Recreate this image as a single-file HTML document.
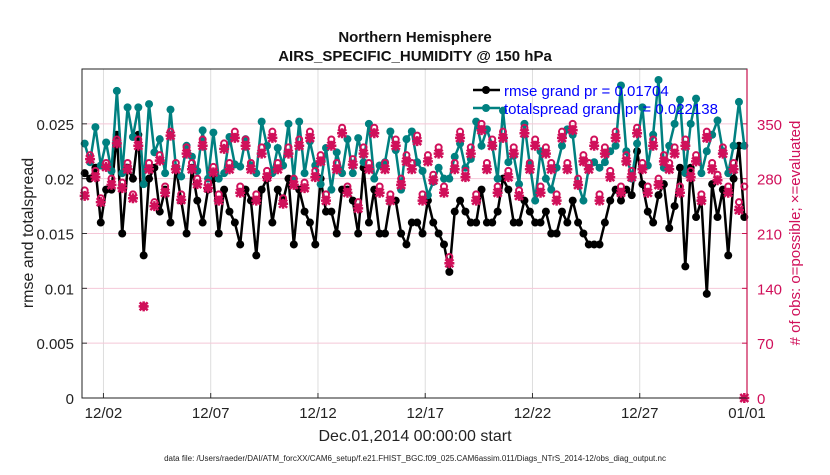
<!DOCTYPE html>
<html><head><meta charset="utf-8"><style>
body{margin:0;background:#fff;width:830px;height:470px;overflow:hidden;font-family:"Liberation Sans",sans-serif}
</style></head><body>
<svg id="c" width="830" height="470" xmlns="http://www.w3.org/2000/svg" font-family="Liberation Sans, sans-serif"></svg>
<script>
const rmse=[0.0205,0.020,0.021,0.016,0.019,0.019,0.024,0.015,0.021,0.020,0.024,0.013,0.020,0.021,0.017,0.019,0.016,0.021,0.018,0.015,0.021,0.018,0.016,0.019,0.020,0.015,0.019,0.017,0.016,0.014,0.019,0.018,0.013,0.019,
0.020,0.016,0.019,0.018,0.020,0.014,0.019,0.017,0.016,0.014,0.020,0.017,0.017,0.015,0.019,0.019,0.018,0.015,0.021,0.016,0.019,0.015,0.015,0.018,0.018,0.015,0.014,0.016,0.016,0.015,0.018,0.016,0.015,0.014,
0.0115,0.017,0.018,0.017,0.016,0.016,0.019,0.016,0.016,0.017,0.020,0.019,0.016,0.016,0.018,0.017,0.016,0.016,0.017,0.015,0.015,0.017,0.016,0.018,0.016,0.015,0.014,0.014,0.014,0.016,0.018,0.019,0.018,0.019,
0.0185,0.0225,0.0195,0.017,0.016,0.0185,0.0195,0.0155,0.0175,0.021,0.012,0.021,0.0165,0.018,0.0095,0.0195,0.0165,0.019,0.013,0.020,0.023,0.0165];
const spread=[0.0232,0.0215,0.0247,0.0212,0.0233,0.0207,0.0280,0.0205,0.0265,0.0238,0.0265,0.0195,0.0268,0.0224,0.0236,0.0205,0.0263,0.0210,0.0202,0.0230,0.0220,0.0207,0.0244,0.0200,0.0242,0.0200,0.0205,0.0238,0.0213,0.0211,0.0236,0.0212,0.0205,0.0252,
0.0230,0.0205,0.0228,0.0212,0.0250,0.0200,0.0252,0.0205,0.0234,0.0212,0.0195,0.0228,0.0190,0.0224,0.0205,0.0236,0.0205,0.0237,0.0215,0.0250,0.0200,0.0212,0.0215,0.0243,0.0226,0.0190,0.0236,0.0243,0.0215,0.0207,0.0185,0.0197,0.0210,0.0200,
0.0200,0.0220,0.0232,0.0210,0.0218,0.0252,0.0230,0.0245,0.0230,0.0200,0.0262,0.0215,0.0221,0.0195,0.0250,0.0213,0.0180,0.0225,0.0200,0.0190,0.0210,0.0230,0.0245,0.0240,0.0195,0.0180,0.0210,0.0215,0.0210,0.0215,0.0225,0.0230,0.0285,0.0225,
0.0200,0.0232,0.0265,0.0212,0.0240,0.0290,0.0210,0.0230,0.0250,0.0272,0.0205,0.0250,0.0273,0.0205,0.0225,0.0240,0.0253,0.0225,0.0205,0.0230,0.0270,0.0230];
const possible=[265,310,290,255,300,280,330,275,300,260,330,117,300,250,310,270,340,300,260,320,300,280,330,275,295,260,325,300,340,270,330,300,260,320,
290,340,300,255,320,280,330,275,340,290,310,260,330,300,345,270,305,250,320,300,345,270,300,260,330,280,310,300,335,260,310,285,320,270,
180,300,340,290,320,260,350,300,330,270,340,290,320,265,345,300,330,270,320,300,260,340,300,350,280,310,300,330,260,320,290,340,270,310,
290,345,300,270,330,280,310,300,320,270,330,290,310,260,340,300,285,320,270,300,250,270];
const evaluated=[258,305,282,250,295,272,325,268,292,255,322,117,292,245,303,262,335,292,253,312,292,273,322,268,288,252,318,292,332,262,322,292,252,312,
282,332,292,248,312,272,322,268,332,282,302,252,322,292,338,262,298,242,312,292,338,262,292,252,322,272,302,292,328,252,302,278,312,262,
172,292,332,282,312,252,342,292,322,262,332,282,312,258,338,292,322,262,312,292,252,332,292,342,272,302,292,322,252,312,282,332,262,302,
282,338,292,262,322,272,302,292,312,262,322,282,302,252,332,292,278,312,262,292,240,0];
const xTickLabels=['12/02','12/07','12/12','12/17','12/22','12/27','01/01'];
const xTickDays=[1,6,11,16,21,26,31];
const yLeftTicks=[0,0.005,0.01,0.015,0.02,0.025];
const yLeftLabels=['0','0.005','0.01','0.015','0.02','0.025'];
const yRightTicks=[0,70,140,210,280,350];

const L=82,R=747,T=69,B=398;
const X=d=>L+(d/31)*(R-L);
const Y=v=>B-(v/0.03)*(B-T);
const YR=v=>B-(v/420)*(B-T);
const tOf=i=>0.125+i*0.25;
const svg=document.getElementById('c');
const NS='http://www.w3.org/2000/svg';
function mk(tag,at,name,txt){const e=document.createElementNS(NS,tag);for(const k in at)e.setAttribute(k,at[k]);


if(txt!==undefined)e.textContent=txt;svg.appendChild(e);return e;}
mk('rect',{x:L,y:T,width:R-L,height:B-T,fill:'#fff'},'plot-area');
xTickDays.forEach((d,i)=>{mk('line',{x1:X(d),x2:X(d),y1:T,y2:B,stroke:'#ddd','stroke-width':1},'x-grid-line');
mk('line',{x1:X(d),x2:X(d),y1:B,y2:B-5,stroke:'#333'},'x-tick');
mk('text',{x:X(d),y:B+20,'text-anchor':'middle','font-size':15,fill:'#222'},'x-tick-label',xTickLabels[i]);});
yRightTicks.forEach(v=>{mk('line',{x1:L,x2:R,y1:YR(v),y2:YR(v),stroke:'#f4c8d8','stroke-width':1},'y-grid-line');
mk('line',{x1:R,x2:R-5,y1:YR(v),y2:YR(v),stroke:'#c8104e'},'y-right-tick');
mk('text',{x:R+10,y:YR(v)+6,'font-size':15,fill:'#d0105a'},'y-right-tick-label',String(v));});
yLeftTicks.forEach((v,i)=>{mk('line',{x1:L,x2:L+5,y1:Y(v),y2:Y(v),stroke:'#333'},'y-left-tick');
mk('text',{x:L-8,y:Y(v)+6,'text-anchor':'end','font-size':15,fill:'#222'},'y-left-tick-label',yLeftLabels[i]);});
function line(arr,col,name){let p=arr.map((v,i)=>X(tOf(i)).toFixed(1)+','+Y(v).toFixed(1)).join(' ');
mk('polyline',{points:p,fill:'none',stroke:col,'stroke-width':2.5},name+'-line');
arr.forEach((v,i)=>mk('circle',{cx:X(tOf(i)),cy:Y(v),r:4,fill:col},name+'-point'));}
line(rmse,'#000','rmse');
line(spread,'#008080','totalspread');
possible.forEach((v,i)=>mk('circle',{cx:X(tOf(i)),cy:YR(v),r:3,fill:'none',stroke:'#d0105a','stroke-width':2},'obs-possible-marker'));
evaluated.forEach((v,i)=>{const x=X(tOf(i)),y=YR(v);
mk('path',{d:`M${x-5},${y}H${x+5}M${x},${y-5}V${y+5}M${x-4},${y-4}L${x+4},${y+4}M${x-4},${y+4}L${x+4},${y-4}`,stroke:'#d0105a','stroke-width':2.5},'obs-evaluated-marker');});
mk('rect',{x:L,y:T,width:R-L,height:B-T,fill:'none',stroke:'#222','stroke-width':1},'plot-frame');
mk('line',{x1:R,x2:R,y1:T,y2:B,stroke:'#c8104e','stroke-width':1.2},'y-right-axis');
mk('line',{x1:473,x2:500,y1:90,y2:90,stroke:'#000','stroke-width':2.5},'legend-rmse-line');
mk('circle',{cx:486,cy:90,r:4,fill:'#000'},'legend-rmse-marker');
mk('text',{x:504,y:96,'font-size':15,fill:'#0000ff'},'legend-rmse-label','rmse grand pr = 0.01704');
mk('line',{x1:473,x2:500,y1:108,y2:108,stroke:'#008080','stroke-width':2.5},'legend-spread-line');
mk('circle',{cx:486,cy:108,r:4,fill:'#008080'},'legend-spread-marker');
mk('text',{x:504,y:114,'font-size':15,fill:'#0000ff'},'legend-spread-label','totalspread grand pr = 0.022138');
mk('text',{x:415,y:42,'text-anchor':'middle','font-size':15,'font-weight':'bold',fill:'#111'},'chart-title','Northern Hemisphere');
mk('text',{x:415,y:61,'text-anchor':'middle','font-size':15,'font-weight':'bold',fill:'#111'},'chart-subtitle','AIRS_SPECIFIC_HUMIDITY @ 150 hPa');
mk('text',{x:415,y:441,'text-anchor':'middle','font-size':16,fill:'#222'},'x-axis-title','Dec.01,2014 00:00:00 start');
mk('text',{x:415,y:461,'text-anchor':'middle','font-size':8,fill:'#222'},'data-file-note','data file: /Users/raeder/DAI/ATM_forcXX/CAM6_setup/f.e21.FHIST_BGC.f09_025.CAM6assim.011/Diags_NTrS_2014-12/obs_diag_output.nc');
mk('text',{x:33,y:233,'text-anchor':'middle','font-size':16,fill:'#222',transform:'rotate(-90 33 233)'},'y-left-axis-title','rmse and totalspread');
mk('text',{x:800,y:233,'text-anchor':'middle','font-size':15,fill:'#d0105a',transform:'rotate(-90 800 233)'},'y-right-axis-title','# of obs: o=possible; \u00d7=evaluated');
</script>
</body></html>
